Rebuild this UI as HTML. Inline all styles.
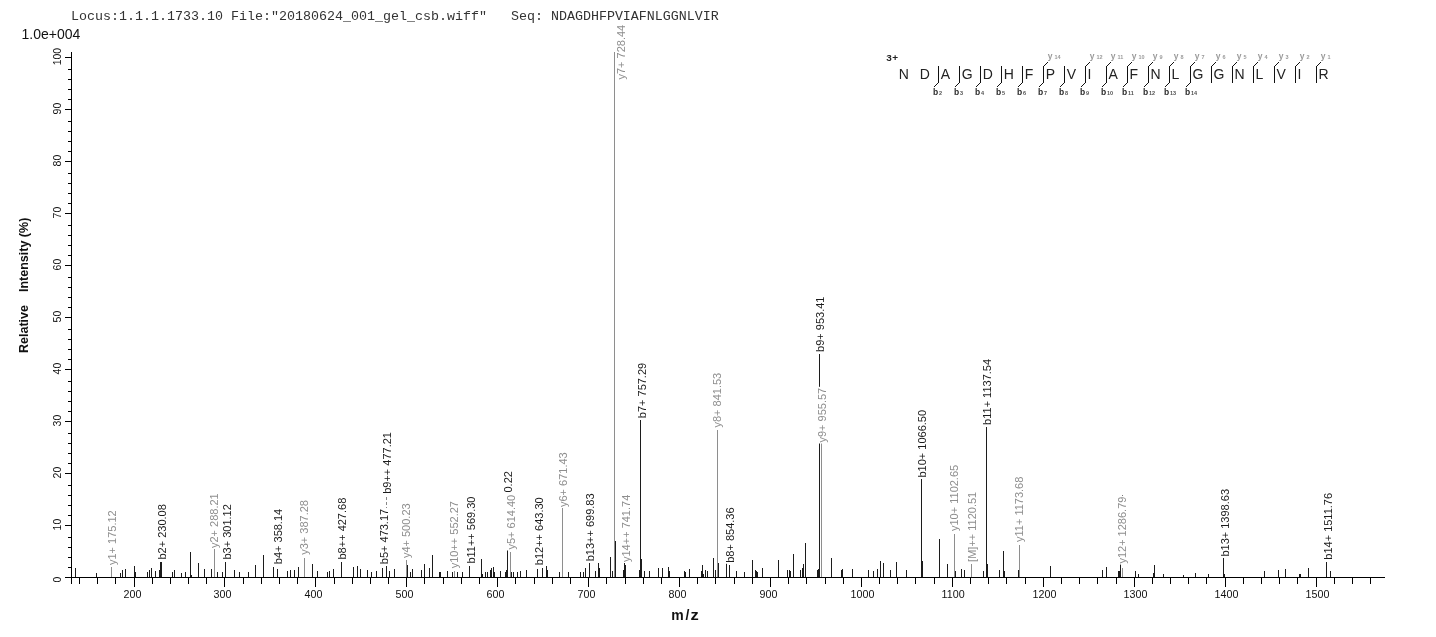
<!DOCTYPE html><html><head><meta charset="utf-8"><style>html,body{margin:0;padding:0;background:#fff;}body{width:1436px;height:637px;overflow:hidden;}svg{display:block;will-change:transform;}</style></head><body><svg width="1436" height="637" viewBox="0 0 1436 637">
<rect x="0" y="0" width="1436" height="637" fill="#fff"/>
<text x="71" y="20" font-family="Liberation Mono" font-size="13.33" fill="#333" xml:space="preserve">Locus:1.1.1.1733.10 File:&quot;20180624_001_gel_csb.wiff&quot;   Seq: NDAGDHFPVIAFNLGGNLVIR</text>
<text x="21.5" y="39" font-family="Liberation Sans" font-size="14" fill="#111">1.0e+004</text>
<text transform="translate(28,353) rotate(-90)" font-family="Liberation Sans" font-weight="bold" font-size="12.5" fill="#111">Relative</text>
<text transform="translate(28,292) rotate(-90)" font-family="Liberation Sans" font-weight="bold" font-size="12.5" fill="#111">Intensity (%)</text>
<text y="620" font-family="Liberation Sans" font-weight="bold" font-size="14" fill="#111"><tspan x="671.2">m</tspan><tspan x="685.5">/</tspan></text>
<text transform="translate(690.4,620) scale(1.18,1)" font-family="Liberation Sans" font-weight="bold" font-size="14" fill="#111">z</text>
<text transform="translate(61,579.5) rotate(-90)" text-anchor="middle" font-family="Liberation Sans" font-size="10.5" fill="#111">0</text>
<text transform="translate(61,524.6) rotate(-90)" text-anchor="middle" font-family="Liberation Sans" font-size="10.5" fill="#111">10</text>
<text transform="translate(61,472.6) rotate(-90)" text-anchor="middle" font-family="Liberation Sans" font-size="10.5" fill="#111">20</text>
<text transform="translate(61,420.6) rotate(-90)" text-anchor="middle" font-family="Liberation Sans" font-size="10.5" fill="#111">30</text>
<text transform="translate(61,368.6) rotate(-90)" text-anchor="middle" font-family="Liberation Sans" font-size="10.5" fill="#111">40</text>
<text transform="translate(61,316.6) rotate(-90)" text-anchor="middle" font-family="Liberation Sans" font-size="10.5" fill="#111">50</text>
<text transform="translate(61,264.6) rotate(-90)" text-anchor="middle" font-family="Liberation Sans" font-size="10.5" fill="#111">60</text>
<text transform="translate(61,212.6) rotate(-90)" text-anchor="middle" font-family="Liberation Sans" font-size="10.5" fill="#111">70</text>
<text transform="translate(61,160.6) rotate(-90)" text-anchor="middle" font-family="Liberation Sans" font-size="10.5" fill="#111">80</text>
<text transform="translate(61,108.6) rotate(-90)" text-anchor="middle" font-family="Liberation Sans" font-size="10.5" fill="#111">90</text>
<text transform="translate(61,56.6) rotate(-90)" text-anchor="middle" font-family="Liberation Sans" font-size="10.5" fill="#111">100</text>
<text x="123.6" y="597.5" font-family="Liberation Sans" font-size="10.7" fill="#111">200</text>
<text x="213.6" y="597.5" font-family="Liberation Sans" font-size="10.7" fill="#111">300</text>
<text x="304.6" y="597.5" font-family="Liberation Sans" font-size="10.7" fill="#111">400</text>
<text x="395.6" y="597.5" font-family="Liberation Sans" font-size="10.7" fill="#111">500</text>
<text x="486.6" y="597.5" font-family="Liberation Sans" font-size="10.7" fill="#111">600</text>
<text x="577.6" y="597.5" font-family="Liberation Sans" font-size="10.7" fill="#111">700</text>
<text x="668.6" y="597.5" font-family="Liberation Sans" font-size="10.7" fill="#111">800</text>
<text x="759.6" y="597.5" font-family="Liberation Sans" font-size="10.7" fill="#111">900</text>
<text x="850.6" y="597.5" font-family="Liberation Sans" font-size="10.7" fill="#111">1000</text>
<text x="941.6" y="597.5" font-family="Liberation Sans" font-size="10.7" fill="#111">1100</text>
<text x="1032.6" y="597.5" font-family="Liberation Sans" font-size="10.7" fill="#111">1200</text>
<text x="1123.6" y="597.5" font-family="Liberation Sans" font-size="10.7" fill="#111">1300</text>
<text x="1214.6" y="597.5" font-family="Liberation Sans" font-size="10.7" fill="#111">1400</text>
<text x="1305.6" y="597.5" font-family="Liberation Sans" font-size="10.7" fill="#111">1500</text>
<g shape-rendering="crispEdges"><rect x="71" y="52" width="1" height="532" fill="#000"/><rect x="65" y="577" width="1320" height="1" fill="#000"/><rect x="65" y="577" width="6" height="1" fill="#000"/><rect x="68" y="567" width="3" height="1" fill="#000"/><rect x="68" y="557" width="3" height="1" fill="#000"/><rect x="68" y="547" width="3" height="1" fill="#000"/><rect x="68" y="537" width="3" height="1" fill="#000"/><rect x="65" y="525" width="6" height="1" fill="#000"/><rect x="68" y="515" width="3" height="1" fill="#000"/><rect x="68" y="505" width="3" height="1" fill="#000"/><rect x="68" y="495" width="3" height="1" fill="#000"/><rect x="68" y="485" width="3" height="1" fill="#000"/><rect x="65" y="473" width="6" height="1" fill="#000"/><rect x="68" y="463" width="3" height="1" fill="#000"/><rect x="68" y="453" width="3" height="1" fill="#000"/><rect x="68" y="443" width="3" height="1" fill="#000"/><rect x="68" y="433" width="3" height="1" fill="#000"/><rect x="65" y="421" width="6" height="1" fill="#000"/><rect x="68" y="411" width="3" height="1" fill="#000"/><rect x="68" y="401" width="3" height="1" fill="#000"/><rect x="68" y="391" width="3" height="1" fill="#000"/><rect x="68" y="381" width="3" height="1" fill="#000"/><rect x="65" y="369" width="6" height="1" fill="#000"/><rect x="68" y="359" width="3" height="1" fill="#000"/><rect x="68" y="349" width="3" height="1" fill="#000"/><rect x="68" y="339" width="3" height="1" fill="#000"/><rect x="68" y="329" width="3" height="1" fill="#000"/><rect x="65" y="317" width="6" height="1" fill="#000"/><rect x="68" y="307" width="3" height="1" fill="#000"/><rect x="68" y="297" width="3" height="1" fill="#000"/><rect x="68" y="287" width="3" height="1" fill="#000"/><rect x="68" y="277" width="3" height="1" fill="#000"/><rect x="65" y="265" width="6" height="1" fill="#000"/><rect x="68" y="255" width="3" height="1" fill="#000"/><rect x="68" y="245" width="3" height="1" fill="#000"/><rect x="68" y="235" width="3" height="1" fill="#000"/><rect x="68" y="225" width="3" height="1" fill="#000"/><rect x="65" y="213" width="6" height="1" fill="#000"/><rect x="68" y="203" width="3" height="1" fill="#000"/><rect x="68" y="193" width="3" height="1" fill="#000"/><rect x="68" y="183" width="3" height="1" fill="#000"/><rect x="68" y="173" width="3" height="1" fill="#000"/><rect x="65" y="161" width="6" height="1" fill="#000"/><rect x="68" y="151" width="3" height="1" fill="#000"/><rect x="68" y="141" width="3" height="1" fill="#000"/><rect x="68" y="131" width="3" height="1" fill="#000"/><rect x="68" y="121" width="3" height="1" fill="#000"/><rect x="65" y="109" width="6" height="1" fill="#000"/><rect x="68" y="99" width="3" height="1" fill="#000"/><rect x="68" y="89" width="3" height="1" fill="#000"/><rect x="68" y="79" width="3" height="1" fill="#000"/><rect x="68" y="69" width="3" height="1" fill="#000"/><rect x="65" y="57" width="6" height="1" fill="#000"/><rect x="79" y="578" width="1" height="6" fill="#000"/><rect x="97" y="578" width="1" height="6" fill="#000"/><rect x="115" y="578" width="1" height="6" fill="#000"/><rect x="134" y="578" width="1" height="9" fill="#000"/><rect x="152" y="578" width="1" height="6" fill="#000"/><rect x="170" y="578" width="1" height="6" fill="#000"/><rect x="188" y="578" width="1" height="6" fill="#000"/><rect x="206" y="578" width="1" height="6" fill="#000"/><rect x="224" y="578" width="1" height="9" fill="#000"/><rect x="243" y="578" width="1" height="6" fill="#000"/><rect x="261" y="578" width="1" height="6" fill="#000"/><rect x="279" y="578" width="1" height="6" fill="#000"/><rect x="297" y="578" width="1" height="6" fill="#000"/><rect x="315" y="578" width="1" height="9" fill="#000"/><rect x="334" y="578" width="1" height="6" fill="#000"/><rect x="352" y="578" width="1" height="6" fill="#000"/><rect x="370" y="578" width="1" height="6" fill="#000"/><rect x="388" y="578" width="1" height="6" fill="#000"/><rect x="406" y="578" width="1" height="9" fill="#000"/><rect x="424" y="578" width="1" height="6" fill="#000"/><rect x="443" y="578" width="1" height="6" fill="#000"/><rect x="461" y="578" width="1" height="6" fill="#000"/><rect x="479" y="578" width="1" height="6" fill="#000"/><rect x="497" y="578" width="1" height="9" fill="#000"/><rect x="515" y="578" width="1" height="6" fill="#000"/><rect x="534" y="578" width="1" height="6" fill="#000"/><rect x="552" y="578" width="1" height="6" fill="#000"/><rect x="570" y="578" width="1" height="6" fill="#000"/><rect x="588" y="578" width="1" height="9" fill="#000"/><rect x="606" y="578" width="1" height="6" fill="#000"/><rect x="625" y="578" width="1" height="6" fill="#000"/><rect x="643" y="578" width="1" height="6" fill="#000"/><rect x="661" y="578" width="1" height="6" fill="#000"/><rect x="679" y="578" width="1" height="9" fill="#000"/><rect x="697" y="578" width="1" height="6" fill="#000"/><rect x="715" y="578" width="1" height="6" fill="#000"/><rect x="734" y="578" width="1" height="6" fill="#000"/><rect x="752" y="578" width="1" height="6" fill="#000"/><rect x="770" y="578" width="1" height="9" fill="#000"/><rect x="788" y="578" width="1" height="6" fill="#000"/><rect x="806" y="578" width="1" height="6" fill="#000"/><rect x="825" y="578" width="1" height="6" fill="#000"/><rect x="843" y="578" width="1" height="6" fill="#000"/><rect x="861" y="578" width="1" height="9" fill="#000"/><rect x="879" y="578" width="1" height="6" fill="#000"/><rect x="897" y="578" width="1" height="6" fill="#000"/><rect x="915" y="578" width="1" height="6" fill="#000"/><rect x="934" y="578" width="1" height="6" fill="#000"/><rect x="952" y="578" width="1" height="9" fill="#000"/><rect x="970" y="578" width="1" height="6" fill="#000"/><rect x="988" y="578" width="1" height="6" fill="#000"/><rect x="1006" y="578" width="1" height="6" fill="#000"/><rect x="1025" y="578" width="1" height="6" fill="#000"/><rect x="1043" y="578" width="1" height="9" fill="#000"/><rect x="1061" y="578" width="1" height="6" fill="#000"/><rect x="1079" y="578" width="1" height="6" fill="#000"/><rect x="1097" y="578" width="1" height="6" fill="#000"/><rect x="1116" y="578" width="1" height="6" fill="#000"/><rect x="1134" y="578" width="1" height="9" fill="#000"/><rect x="1152" y="578" width="1" height="6" fill="#000"/><rect x="1170" y="578" width="1" height="6" fill="#000"/><rect x="1188" y="578" width="1" height="6" fill="#000"/><rect x="1206" y="578" width="1" height="6" fill="#000"/><rect x="1225" y="578" width="1" height="9" fill="#000"/><rect x="1243" y="578" width="1" height="6" fill="#000"/><rect x="1261" y="578" width="1" height="6" fill="#000"/><rect x="1279" y="578" width="1" height="6" fill="#000"/><rect x="1297" y="578" width="1" height="6" fill="#000"/><rect x="1316" y="578" width="1" height="9" fill="#000"/><rect x="1334" y="578" width="1" height="6" fill="#000"/><rect x="1352" y="578" width="1" height="6" fill="#000"/><rect x="1370" y="578" width="1" height="6" fill="#000"/><rect x="111" y="567" width="1" height="10" fill="#8e8e8e"/><rect x="214" y="549" width="1" height="28" fill="#8e8e8e"/><rect x="304" y="558" width="1" height="19" fill="#8e8e8e"/><rect x="406" y="560" width="1" height="17" fill="#8e8e8e"/><rect x="454" y="571" width="1" height="6" fill="#8e8e8e"/><rect x="510" y="552" width="1" height="25" fill="#8e8e8e"/><rect x="562" y="508" width="1" height="69" fill="#8e8e8e"/><rect x="614" y="52" width="1" height="525" fill="#8e8e8e"/><rect x="717" y="430" width="1" height="147" fill="#8e8e8e"/><rect x="821" y="443" width="1" height="134" fill="#8e8e8e"/><rect x="954" y="534" width="1" height="43" fill="#8e8e8e"/><rect x="971" y="564" width="1" height="13" fill="#8e8e8e"/><rect x="1019" y="545" width="1" height="32" fill="#8e8e8e"/><rect x="1122" y="568" width="1" height="9" fill="#8e8e8e"/><rect x="75" y="568" width="1" height="9" fill="#1c1c1c"/><rect x="96" y="573" width="1" height="4" fill="#1c1c1c"/><rect x="120" y="573" width="1" height="4" fill="#1c1c1c"/><rect x="122" y="570" width="1" height="7" fill="#1c1c1c"/><rect x="125" y="569" width="1" height="8" fill="#1c1c1c"/><rect x="134" y="566" width="1" height="11" fill="#1c1c1c"/><rect x="135" y="572" width="1" height="5" fill="#1c1c1c"/><rect x="147" y="572" width="1" height="5" fill="#1c1c1c"/><rect x="149" y="570" width="1" height="7" fill="#1c1c1c"/><rect x="151" y="568" width="1" height="9" fill="#1c1c1c"/><rect x="155" y="571" width="1" height="6" fill="#1c1c1c"/><rect x="159" y="570" width="1" height="7" fill="#1c1c1c"/><rect x="160" y="562" width="1" height="15" fill="#1c1c1c"/><rect x="161" y="562" width="1" height="15" fill="#1c1c1c"/><rect x="172" y="572" width="1" height="5" fill="#1c1c1c"/><rect x="174" y="570" width="1" height="7" fill="#1c1c1c"/><rect x="181" y="573" width="1" height="4" fill="#1c1c1c"/><rect x="185" y="572" width="1" height="5" fill="#1c1c1c"/><rect x="190" y="552" width="1" height="25" fill="#1c1c1c"/><rect x="191" y="575" width="1" height="2" fill="#1c1c1c"/><rect x="198" y="563" width="1" height="14" fill="#1c1c1c"/><rect x="204" y="569" width="1" height="8" fill="#1c1c1c"/><rect x="211" y="569" width="1" height="8" fill="#1c1c1c"/><rect x="217" y="572" width="1" height="5" fill="#1c1c1c"/><rect x="222" y="572" width="1" height="5" fill="#1c1c1c"/><rect x="225" y="562" width="1" height="15" fill="#1c1c1c"/><rect x="234" y="570" width="1" height="7" fill="#1c1c1c"/><rect x="239" y="572" width="1" height="5" fill="#1c1c1c"/><rect x="248" y="572" width="1" height="5" fill="#1c1c1c"/><rect x="255" y="565" width="1" height="12" fill="#1c1c1c"/><rect x="263" y="555" width="1" height="22" fill="#1c1c1c"/><rect x="273" y="567" width="1" height="10" fill="#1c1c1c"/><rect x="277" y="569" width="1" height="8" fill="#1c1c1c"/><rect x="287" y="571" width="1" height="6" fill="#1c1c1c"/><rect x="290" y="570" width="1" height="7" fill="#1c1c1c"/><rect x="294" y="570" width="1" height="7" fill="#1c1c1c"/><rect x="298" y="567" width="1" height="10" fill="#1c1c1c"/><rect x="312" y="564" width="1" height="13" fill="#1c1c1c"/><rect x="317" y="571" width="1" height="6" fill="#1c1c1c"/><rect x="327" y="572" width="1" height="5" fill="#1c1c1c"/><rect x="329" y="571" width="1" height="6" fill="#1c1c1c"/><rect x="333" y="569" width="1" height="8" fill="#1c1c1c"/><rect x="341" y="562" width="1" height="15" fill="#1c1c1c"/><rect x="353" y="567" width="1" height="10" fill="#1c1c1c"/><rect x="357" y="566" width="1" height="11" fill="#1c1c1c"/><rect x="360" y="569" width="1" height="8" fill="#1c1c1c"/><rect x="367" y="570" width="1" height="7" fill="#1c1c1c"/><rect x="371" y="572" width="1" height="5" fill="#1c1c1c"/><rect x="376" y="571" width="1" height="6" fill="#1c1c1c"/><rect x="382" y="568" width="1" height="9" fill="#1c1c1c"/><rect x="386" y="566" width="1" height="11" fill="#1c1c1c"/><rect x="389" y="571" width="1" height="6" fill="#1c1c1c"/><rect x="394" y="569" width="1" height="8" fill="#1c1c1c"/><rect x="407" y="565" width="1" height="12" fill="#1c1c1c"/><rect x="410" y="572" width="1" height="5" fill="#1c1c1c"/><rect x="412" y="569" width="1" height="8" fill="#1c1c1c"/><rect x="421" y="570" width="1" height="7" fill="#1c1c1c"/><rect x="424" y="564" width="1" height="13" fill="#1c1c1c"/><rect x="429" y="568" width="1" height="9" fill="#1c1c1c"/><rect x="432" y="555" width="1" height="22" fill="#1c1c1c"/><rect x="439" y="572" width="1" height="5" fill="#1c1c1c"/><rect x="440" y="572" width="1" height="5" fill="#1c1c1c"/><rect x="447" y="571" width="1" height="6" fill="#1c1c1c"/><rect x="452" y="572" width="1" height="5" fill="#1c1c1c"/><rect x="457" y="572" width="1" height="5" fill="#1c1c1c"/><rect x="462" y="572" width="1" height="5" fill="#1c1c1c"/><rect x="469" y="566" width="1" height="11" fill="#1c1c1c"/><rect x="481" y="559" width="1" height="18" fill="#1c1c1c"/><rect x="482" y="574" width="1" height="3" fill="#1c1c1c"/><rect x="485" y="572" width="1" height="5" fill="#1c1c1c"/><rect x="487" y="572" width="1" height="5" fill="#1c1c1c"/><rect x="490" y="570" width="1" height="7" fill="#1c1c1c"/><rect x="491" y="568" width="1" height="9" fill="#1c1c1c"/><rect x="493" y="567" width="1" height="10" fill="#1c1c1c"/><rect x="494" y="572" width="1" height="5" fill="#1c1c1c"/><rect x="500" y="571" width="1" height="6" fill="#1c1c1c"/><rect x="505" y="572" width="1" height="5" fill="#1c1c1c"/><rect x="506" y="570" width="1" height="7" fill="#1c1c1c"/><rect x="507" y="550" width="1" height="27" fill="#1c1c1c"/><rect x="511" y="572" width="1" height="5" fill="#1c1c1c"/><rect x="513" y="572" width="1" height="5" fill="#1c1c1c"/><rect x="517" y="572" width="1" height="5" fill="#1c1c1c"/><rect x="520" y="571" width="1" height="6" fill="#1c1c1c"/><rect x="526" y="570" width="1" height="7" fill="#1c1c1c"/><rect x="537" y="569" width="1" height="8" fill="#1c1c1c"/><rect x="542" y="568" width="1" height="9" fill="#1c1c1c"/><rect x="546" y="566" width="1" height="11" fill="#1c1c1c"/><rect x="547" y="570" width="1" height="7" fill="#1c1c1c"/><rect x="559" y="572" width="1" height="5" fill="#1c1c1c"/><rect x="568" y="572" width="1" height="5" fill="#1c1c1c"/><rect x="580" y="572" width="1" height="5" fill="#1c1c1c"/><rect x="583" y="572" width="1" height="5" fill="#1c1c1c"/><rect x="585" y="568" width="1" height="9" fill="#1c1c1c"/><rect x="589" y="563" width="1" height="14" fill="#1c1c1c"/><rect x="595" y="571" width="1" height="6" fill="#1c1c1c"/><rect x="598" y="563" width="1" height="14" fill="#1c1c1c"/><rect x="599" y="568" width="1" height="9" fill="#1c1c1c"/><rect x="610" y="557" width="1" height="20" fill="#1c1c1c"/><rect x="612" y="571" width="1" height="6" fill="#1c1c1c"/><rect x="615" y="541" width="1" height="36" fill="#1c1c1c"/><rect x="623" y="570" width="1" height="7" fill="#1c1c1c"/><rect x="624" y="563" width="1" height="14" fill="#1c1c1c"/><rect x="625" y="565" width="1" height="12" fill="#1c1c1c"/><rect x="639" y="570" width="1" height="7" fill="#1c1c1c"/><rect x="640" y="420" width="1" height="157" fill="#1c1c1c"/><rect x="641" y="559" width="1" height="18" fill="#1c1c1c"/><rect x="644" y="571" width="1" height="6" fill="#1c1c1c"/><rect x="649" y="571" width="1" height="6" fill="#1c1c1c"/><rect x="658" y="568" width="1" height="9" fill="#1c1c1c"/><rect x="662" y="568" width="1" height="9" fill="#1c1c1c"/><rect x="668" y="567" width="1" height="10" fill="#1c1c1c"/><rect x="669" y="571" width="1" height="6" fill="#1c1c1c"/><rect x="684" y="571" width="1" height="6" fill="#1c1c1c"/><rect x="685" y="572" width="1" height="5" fill="#1c1c1c"/><rect x="689" y="569" width="1" height="8" fill="#1c1c1c"/><rect x="701" y="571" width="1" height="6" fill="#1c1c1c"/><rect x="702" y="565" width="1" height="12" fill="#1c1c1c"/><rect x="703" y="574" width="1" height="3" fill="#1c1c1c"/><rect x="705" y="570" width="1" height="7" fill="#1c1c1c"/><rect x="707" y="571" width="1" height="6" fill="#1c1c1c"/><rect x="713" y="558" width="1" height="19" fill="#1c1c1c"/><rect x="715" y="570" width="1" height="7" fill="#1c1c1c"/><rect x="718" y="563" width="1" height="14" fill="#1c1c1c"/><rect x="726" y="563" width="1" height="14" fill="#1c1c1c"/><rect x="729" y="565" width="1" height="12" fill="#1c1c1c"/><rect x="736" y="571" width="1" height="6" fill="#1c1c1c"/><rect x="744" y="572" width="1" height="5" fill="#1c1c1c"/><rect x="752" y="560" width="1" height="17" fill="#1c1c1c"/><rect x="755" y="570" width="1" height="7" fill="#1c1c1c"/><rect x="756" y="571" width="1" height="6" fill="#1c1c1c"/><rect x="757" y="572" width="1" height="5" fill="#1c1c1c"/><rect x="762" y="568" width="1" height="9" fill="#1c1c1c"/><rect x="778" y="560" width="1" height="17" fill="#1c1c1c"/><rect x="787" y="570" width="1" height="7" fill="#1c1c1c"/><rect x="789" y="570" width="1" height="7" fill="#1c1c1c"/><rect x="790" y="571" width="1" height="6" fill="#1c1c1c"/><rect x="793" y="554" width="1" height="23" fill="#1c1c1c"/><rect x="800" y="570" width="1" height="7" fill="#1c1c1c"/><rect x="802" y="568" width="1" height="9" fill="#1c1c1c"/><rect x="803" y="564" width="1" height="13" fill="#1c1c1c"/><rect x="805" y="543" width="1" height="34" fill="#1c1c1c"/><rect x="817" y="570" width="1" height="7" fill="#1c1c1c"/><rect x="818" y="569" width="1" height="8" fill="#1c1c1c"/><rect x="819" y="354" width="1" height="223" fill="#1c1c1c"/><rect x="831" y="558" width="1" height="19" fill="#1c1c1c"/><rect x="841" y="570" width="1" height="7" fill="#1c1c1c"/><rect x="842" y="569" width="1" height="8" fill="#1c1c1c"/><rect x="852" y="569" width="1" height="8" fill="#1c1c1c"/><rect x="868" y="570" width="1" height="7" fill="#1c1c1c"/><rect x="873" y="571" width="1" height="6" fill="#1c1c1c"/><rect x="877" y="569" width="1" height="8" fill="#1c1c1c"/><rect x="880" y="561" width="1" height="16" fill="#1c1c1c"/><rect x="883" y="563" width="1" height="14" fill="#1c1c1c"/><rect x="890" y="570" width="1" height="7" fill="#1c1c1c"/><rect x="896" y="562" width="1" height="15" fill="#1c1c1c"/><rect x="906" y="570" width="1" height="7" fill="#1c1c1c"/><rect x="921" y="479" width="1" height="98" fill="#1c1c1c"/><rect x="922" y="561" width="1" height="16" fill="#1c1c1c"/><rect x="939" y="539" width="1" height="38" fill="#1c1c1c"/><rect x="947" y="564" width="1" height="13" fill="#1c1c1c"/><rect x="955" y="571" width="1" height="6" fill="#1c1c1c"/><rect x="961" y="569" width="1" height="8" fill="#1c1c1c"/><rect x="964" y="570" width="1" height="7" fill="#1c1c1c"/><rect x="983" y="571" width="1" height="6" fill="#1c1c1c"/><rect x="986" y="427" width="1" height="150" fill="#1c1c1c"/><rect x="987" y="564" width="1" height="13" fill="#1c1c1c"/><rect x="999" y="570" width="1" height="7" fill="#1c1c1c"/><rect x="1003" y="551" width="1" height="26" fill="#1c1c1c"/><rect x="1004" y="571" width="1" height="6" fill="#1c1c1c"/><rect x="1018" y="570" width="1" height="7" fill="#1c1c1c"/><rect x="1050" y="566" width="1" height="11" fill="#1c1c1c"/><rect x="1102" y="570" width="1" height="7" fill="#1c1c1c"/><rect x="1106" y="567" width="1" height="10" fill="#1c1c1c"/><rect x="1118" y="571" width="1" height="6" fill="#1c1c1c"/><rect x="1119" y="571" width="1" height="6" fill="#1c1c1c"/><rect x="1120" y="564" width="1" height="13" fill="#1c1c1c"/><rect x="1135" y="571" width="1" height="6" fill="#1c1c1c"/><rect x="1138" y="574" width="1" height="3" fill="#1c1c1c"/><rect x="1153" y="573" width="1" height="4" fill="#1c1c1c"/><rect x="1154" y="565" width="1" height="12" fill="#1c1c1c"/><rect x="1163" y="574" width="1" height="3" fill="#1c1c1c"/><rect x="1183" y="575" width="1" height="2" fill="#1c1c1c"/><rect x="1195" y="573" width="1" height="4" fill="#1c1c1c"/><rect x="1208" y="574" width="1" height="3" fill="#1c1c1c"/><rect x="1223" y="558" width="1" height="19" fill="#1c1c1c"/><rect x="1224" y="574" width="1" height="3" fill="#1c1c1c"/><rect x="1264" y="571" width="1" height="6" fill="#1c1c1c"/><rect x="1278" y="570" width="1" height="7" fill="#1c1c1c"/><rect x="1285" y="569" width="1" height="8" fill="#1c1c1c"/><rect x="1299" y="574" width="1" height="3" fill="#1c1c1c"/><rect x="1300" y="574" width="1" height="3" fill="#1c1c1c"/><rect x="1308" y="568" width="1" height="9" fill="#1c1c1c"/><rect x="1326" y="562" width="1" height="15" fill="#1c1c1c"/><rect x="1330" y="571" width="1" height="6" fill="#1c1c1c"/></g>
<rect x="106.6" y="509.3" width="12" height="56.7" fill="#fff"/>
<text transform="translate(115.6,565.0) rotate(-90)" font-family="Liberation Sans" font-size="11" fill="#8e8e8e">y1+ 175.12</text>
<rect x="157.4" y="503.1" width="12" height="57.4" fill="#fff"/>
<text transform="translate(166.4,559.5) rotate(-90)" font-family="Liberation Sans" font-size="11" fill="#1c1c1c">b2+ 230.08</text>
<rect x="209.3" y="492.3" width="12" height="56.7" fill="#fff"/>
<text transform="translate(218.3,548.0) rotate(-90)" font-family="Liberation Sans" font-size="11" fill="#8e8e8e">y2+ 288.21</text>
<rect x="221.8" y="503.1" width="12" height="57.4" fill="#fff"/>
<text transform="translate(230.8,559.5) rotate(-90)" font-family="Liberation Sans" font-size="11" fill="#1c1c1c">b3+ 301.12</text>
<rect x="273.2" y="507.8" width="12" height="57.4" fill="#fff"/>
<text transform="translate(282.2,564.2) rotate(-90)" font-family="Liberation Sans" font-size="11" fill="#1c1c1c">b4+ 358.14</text>
<rect x="298.6" y="499.1" width="12" height="56.7" fill="#fff"/>
<text transform="translate(307.6,554.8) rotate(-90)" font-family="Liberation Sans" font-size="11" fill="#8e8e8e">y3+ 387.28</text>
<rect x="337.2" y="496.7" width="12" height="63.8" fill="#fff"/>
<text transform="translate(346.2,559.5) rotate(-90)" font-family="Liberation Sans" font-size="11" fill="#1c1c1c">b8++ 427.68</text>
<rect x="378.6" y="507.8" width="12" height="57.4" fill="#fff"/>
<text transform="translate(387.6,564.2) rotate(-90)" font-family="Liberation Sans" font-size="11" fill="#1c1c1c">b5+ 473.17</text>
<rect x="382.3" y="431.0" width="12" height="63.8" fill="#fff"/>
<text transform="translate(391.3,493.8) rotate(-90)" font-family="Liberation Sans" font-size="11" fill="#1c1c1c">b9++ 477.21</text>
<rect x="401.1" y="502.4" width="12" height="56.7" fill="#fff"/>
<text transform="translate(410.1,558.1) rotate(-90)" font-family="Liberation Sans" font-size="11" fill="#8e8e8e">y4+ 500.23</text>
<rect x="448.9" y="500.0" width="12" height="69.3" fill="#fff"/>
<text transform="translate(457.9,568.3) rotate(-90)" font-family="Liberation Sans" font-size="11" fill="#8e8e8e">y10++ 552.27</text>
<rect x="465.7" y="494.7" width="12" height="69.9" fill="#fff"/>
<text transform="translate(474.7,563.6) rotate(-90)" font-family="Liberation Sans" font-size="11" fill="#1c1c1c">b11++ 569.30</text>
<rect x="505.5" y="493.8" width="12" height="56.7" fill="#fff"/>
<text transform="translate(514.5,549.5) rotate(-90)" font-family="Liberation Sans" font-size="11" fill="#8e8e8e">y5+ 614.40</text>
<rect x="534.0" y="496.3" width="12" height="69.9" fill="#fff"/>
<text transform="translate(543.0,565.2) rotate(-90)" font-family="Liberation Sans" font-size="11" fill="#1c1c1c">b12++ 643.30</text>
<rect x="558.0" y="451.3" width="12" height="56.7" fill="#fff"/>
<text transform="translate(567.0,507.0) rotate(-90)" font-family="Liberation Sans" font-size="11" fill="#8e8e8e">y6+ 671.43</text>
<rect x="584.9" y="492.4" width="12" height="69.9" fill="#fff"/>
<text transform="translate(593.9,561.3) rotate(-90)" font-family="Liberation Sans" font-size="11" fill="#1c1c1c">b13++ 699.83</text>
<rect x="621.2" y="493.7" width="12" height="69.3" fill="#fff"/>
<text transform="translate(630.2,562.0) rotate(-90)" font-family="Liberation Sans" font-size="11" fill="#8e8e8e">y14++ 741.74</text>
<rect x="636.7" y="361.8" width="12" height="57.4" fill="#fff"/>
<text transform="translate(645.7,418.2) rotate(-90)" font-family="Liberation Sans" font-size="11" fill="#1c1c1c">b7+ 757.29</text>
<rect x="712.2" y="371.8" width="12" height="56.7" fill="#fff"/>
<text transform="translate(721.2,427.5) rotate(-90)" font-family="Liberation Sans" font-size="11" fill="#8e8e8e">y8+ 841.53</text>
<rect x="725.4" y="506.4" width="12" height="57.4" fill="#fff"/>
<text transform="translate(734.4,562.8) rotate(-90)" font-family="Liberation Sans" font-size="11" fill="#1c1c1c">b8+ 854.36</text>
<rect x="815.0" y="295.5" width="12" height="57.4" fill="#fff"/>
<text transform="translate(824.0,351.9) rotate(-90)" font-family="Liberation Sans" font-size="11" fill="#1c1c1c">b9+ 953.41</text>
<rect x="816.6" y="386.8" width="12" height="56.7" fill="#fff"/>
<text transform="translate(825.6,442.5) rotate(-90)" font-family="Liberation Sans" font-size="11" fill="#8e8e8e">y9+ 955.57</text>
<rect x="917.0" y="408.9" width="12" height="69.6" fill="#fff"/>
<text transform="translate(926.0,477.5) rotate(-90)" font-family="Liberation Sans" font-size="11" fill="#1c1c1c">b10+ 1066.50</text>
<rect x="948.6" y="463.0" width="12" height="69.0" fill="#fff"/>
<text transform="translate(957.6,531.0) rotate(-90)" font-family="Liberation Sans" font-size="11" fill="#8e8e8e">y10+ 1102.65</text>
<rect x="966.6" y="490.0" width="12" height="72.9" fill="#fff"/>
<text transform="translate(975.6,561.9) rotate(-90)" font-family="Liberation Sans" font-size="11" fill="#8e8e8e">[M]++ 1120.51</text>
<rect x="982.4" y="356.3" width="12" height="69.6" fill="#fff"/>
<text transform="translate(991.4,424.9) rotate(-90)" font-family="Liberation Sans" font-size="11" fill="#1c1c1c">b11+ 1137.54</text>
<rect x="1014.1" y="474.0" width="12" height="69.0" fill="#fff"/>
<text transform="translate(1023.1,542.0) rotate(-90)" font-family="Liberation Sans" font-size="11" fill="#8e8e8e">y11+ 1173.68</text>
<rect x="1117.2" y="495.6" width="12" height="69.0" fill="#fff"/>
<text transform="translate(1126.2,563.6) rotate(-90)" font-family="Liberation Sans" font-size="11" fill="#8e8e8e">y12+ 1286.79</text>
<rect x="1219.8" y="488.0" width="12" height="69.6" fill="#fff"/>
<text transform="translate(1228.8,556.6) rotate(-90)" font-family="Liberation Sans" font-size="11" fill="#1c1c1c">b13+ 1398.63</text>
<rect x="1322.5" y="491.1" width="12" height="69.6" fill="#fff"/>
<text transform="translate(1331.5,559.7) rotate(-90)" font-family="Liberation Sans" font-size="11" fill="#1c1c1c">b14+ 1511.76</text>
<text transform="translate(624.8,79.5) rotate(-90)" font-family="Liberation Sans" font-size="11" fill="#8e8e8e">y7+ 728.44</text>
<text transform="translate(511.6,492.5) rotate(-90)" font-family="Liberation Sans" font-size="11" fill="#1c1c1c">0.22</text>
<rect x="1122" y="495" width="1" height="1" fill="#777"/>
<line x1="386.5" y1="497" x2="386.5" y2="508" stroke="#888" stroke-width="1" stroke-dasharray="3,2"/>
<text transform="translate(886.2,60.8) scale(1,0.9)" font-family="Liberation Sans" font-weight="bold" font-size="10" letter-spacing="0.6" fill="#222">3+</text>
<text x="898.80" y="79" font-family="Liberation Sans" font-size="14" fill="#222">N</text>
<text x="919.78" y="79" font-family="Liberation Sans" font-size="14" fill="#222">D</text>
<text x="940.76" y="79" font-family="Liberation Sans" font-size="14" fill="#222">A</text>
<text x="961.74" y="79" font-family="Liberation Sans" font-size="14" fill="#222">G</text>
<text x="982.72" y="79" font-family="Liberation Sans" font-size="14" fill="#222">D</text>
<text x="1003.70" y="79" font-family="Liberation Sans" font-size="14" fill="#222">H</text>
<text x="1024.68" y="79" font-family="Liberation Sans" font-size="14" fill="#222">F</text>
<text x="1045.66" y="79" font-family="Liberation Sans" font-size="14" fill="#222">P</text>
<text x="1066.64" y="79" font-family="Liberation Sans" font-size="14" fill="#222">V</text>
<text x="1087.62" y="79" font-family="Liberation Sans" font-size="14" fill="#222">I</text>
<text x="1108.60" y="79" font-family="Liberation Sans" font-size="14" fill="#222">A</text>
<text x="1129.58" y="79" font-family="Liberation Sans" font-size="14" fill="#222">F</text>
<text x="1150.56" y="79" font-family="Liberation Sans" font-size="14" fill="#222">N</text>
<text x="1171.54" y="79" font-family="Liberation Sans" font-size="14" fill="#222">L</text>
<text x="1192.52" y="79" font-family="Liberation Sans" font-size="14" fill="#222">G</text>
<text x="1213.50" y="79" font-family="Liberation Sans" font-size="14" fill="#222">G</text>
<text x="1234.48" y="79" font-family="Liberation Sans" font-size="14" fill="#222">N</text>
<text x="1255.46" y="79" font-family="Liberation Sans" font-size="14" fill="#222">L</text>
<text x="1276.44" y="79" font-family="Liberation Sans" font-size="14" fill="#222">V</text>
<text x="1297.42" y="79" font-family="Liberation Sans" font-size="14" fill="#222">I</text>
<text x="1318.40" y="79" font-family="Liberation Sans" font-size="14" fill="#222">R</text>
<text x="932.90" y="94.8" font-family="Liberation Sans" font-weight="bold" font-size="8.5" fill="#2a2a2a">b<tspan font-size="5.5" dx="0.9" fill="#505050">2</tspan></text>
<text x="953.90" y="94.8" font-family="Liberation Sans" font-weight="bold" font-size="8.5" fill="#2a2a2a">b<tspan font-size="5.5" dx="0.9" fill="#505050">3</tspan></text>
<text x="974.90" y="94.8" font-family="Liberation Sans" font-weight="bold" font-size="8.5" fill="#2a2a2a">b<tspan font-size="5.5" dx="0.9" fill="#505050">4</tspan></text>
<text x="995.90" y="94.8" font-family="Liberation Sans" font-weight="bold" font-size="8.5" fill="#2a2a2a">b<tspan font-size="5.5" dx="0.9" fill="#505050">5</tspan></text>
<text x="1016.90" y="94.8" font-family="Liberation Sans" font-weight="bold" font-size="8.5" fill="#2a2a2a">b<tspan font-size="5.5" dx="0.9" fill="#505050">6</tspan></text>
<text x="1037.90" y="94.8" font-family="Liberation Sans" font-weight="bold" font-size="8.5" fill="#2a2a2a">b<tspan font-size="5.5" dx="0.9" fill="#505050">7</tspan></text>
<text x="1047.80" y="59" font-family="Liberation Sans" font-weight="bold" font-size="8.5" fill="#9a9a9a">y<tspan font-size="5.5" dx="2">14</tspan></text>
<text x="1058.90" y="94.8" font-family="Liberation Sans" font-weight="bold" font-size="8.5" fill="#2a2a2a">b<tspan font-size="5.5" dx="0.9" fill="#505050">8</tspan></text>
<text x="1079.90" y="94.8" font-family="Liberation Sans" font-weight="bold" font-size="8.5" fill="#2a2a2a">b<tspan font-size="5.5" dx="0.9" fill="#505050">9</tspan></text>
<text x="1089.80" y="59" font-family="Liberation Sans" font-weight="bold" font-size="8.5" fill="#9a9a9a">y<tspan font-size="5.5" dx="2">12</tspan></text>
<text x="1100.90" y="94.8" font-family="Liberation Sans" font-weight="bold" font-size="8.5" fill="#2a2a2a">b<tspan font-size="5.5" dx="0.9" fill="#505050">10</tspan></text>
<text x="1110.80" y="59" font-family="Liberation Sans" font-weight="bold" font-size="8.5" fill="#9a9a9a">y<tspan font-size="5.5" dx="2">11</tspan></text>
<text x="1121.90" y="94.8" font-family="Liberation Sans" font-weight="bold" font-size="8.5" fill="#2a2a2a">b<tspan font-size="5.5" dx="0.9" fill="#505050">11</tspan></text>
<text x="1131.80" y="59" font-family="Liberation Sans" font-weight="bold" font-size="8.5" fill="#9a9a9a">y<tspan font-size="5.5" dx="2">10</tspan></text>
<text x="1142.90" y="94.8" font-family="Liberation Sans" font-weight="bold" font-size="8.5" fill="#2a2a2a">b<tspan font-size="5.5" dx="0.9" fill="#505050">12</tspan></text>
<text x="1152.80" y="59" font-family="Liberation Sans" font-weight="bold" font-size="8.5" fill="#9a9a9a">y<tspan font-size="5.5" dx="2">9</tspan></text>
<text x="1163.90" y="94.8" font-family="Liberation Sans" font-weight="bold" font-size="8.5" fill="#2a2a2a">b<tspan font-size="5.5" dx="0.9" fill="#505050">13</tspan></text>
<text x="1173.80" y="59" font-family="Liberation Sans" font-weight="bold" font-size="8.5" fill="#9a9a9a">y<tspan font-size="5.5" dx="2">8</tspan></text>
<text x="1184.90" y="94.8" font-family="Liberation Sans" font-weight="bold" font-size="8.5" fill="#2a2a2a">b<tspan font-size="5.5" dx="0.9" fill="#505050">14</tspan></text>
<text x="1194.80" y="59" font-family="Liberation Sans" font-weight="bold" font-size="8.5" fill="#9a9a9a">y<tspan font-size="5.5" dx="2">7</tspan></text>
<text x="1215.80" y="59" font-family="Liberation Sans" font-weight="bold" font-size="8.5" fill="#9a9a9a">y<tspan font-size="5.5" dx="2">6</tspan></text>
<text x="1236.80" y="59" font-family="Liberation Sans" font-weight="bold" font-size="8.5" fill="#9a9a9a">y<tspan font-size="5.5" dx="2">5</tspan></text>
<text x="1257.80" y="59" font-family="Liberation Sans" font-weight="bold" font-size="8.5" fill="#9a9a9a">y<tspan font-size="5.5" dx="2">4</tspan></text>
<text x="1278.80" y="59" font-family="Liberation Sans" font-weight="bold" font-size="8.5" fill="#9a9a9a">y<tspan font-size="5.5" dx="2">3</tspan></text>
<text x="1299.80" y="59" font-family="Liberation Sans" font-weight="bold" font-size="8.5" fill="#9a9a9a">y<tspan font-size="5.5" dx="2">2</tspan></text>
<text x="1320.80" y="59" font-family="Liberation Sans" font-weight="bold" font-size="8.5" fill="#9a9a9a">y<tspan font-size="5.5" dx="2">1</tspan></text>
<g fill="#111" shape-rendering="crispEdges"><rect x="938" y="66" width="1" height="17"/><rect x="937" y="83" width="1" height="1"/><rect x="936" y="84" width="1" height="1"/><rect x="935" y="85" width="1" height="1"/><rect x="934" y="86" width="1" height="1"/><rect x="959" y="66" width="1" height="17"/><rect x="958" y="83" width="1" height="1"/><rect x="957" y="84" width="1" height="1"/><rect x="956" y="85" width="1" height="1"/><rect x="955" y="86" width="1" height="1"/><rect x="980" y="66" width="1" height="17"/><rect x="979" y="83" width="1" height="1"/><rect x="978" y="84" width="1" height="1"/><rect x="977" y="85" width="1" height="1"/><rect x="976" y="86" width="1" height="1"/><rect x="1001" y="66" width="1" height="17"/><rect x="1000" y="83" width="1" height="1"/><rect x="999" y="84" width="1" height="1"/><rect x="998" y="85" width="1" height="1"/><rect x="997" y="86" width="1" height="1"/><rect x="1022" y="66" width="1" height="17"/><rect x="1021" y="83" width="1" height="1"/><rect x="1020" y="84" width="1" height="1"/><rect x="1019" y="85" width="1" height="1"/><rect x="1018" y="86" width="1" height="1"/><rect x="1043" y="66" width="1" height="17"/><rect x="1042" y="83" width="1" height="1"/><rect x="1041" y="84" width="1" height="1"/><rect x="1040" y="85" width="1" height="1"/><rect x="1039" y="86" width="1" height="1"/><rect x="1044" y="65" width="1" height="1"/><rect x="1045" y="64" width="1" height="1"/><rect x="1046" y="63" width="1" height="1"/><rect x="1047" y="62" width="1" height="1"/><rect x="1064" y="66" width="1" height="17"/><rect x="1063" y="83" width="1" height="1"/><rect x="1062" y="84" width="1" height="1"/><rect x="1061" y="85" width="1" height="1"/><rect x="1060" y="86" width="1" height="1"/><rect x="1085" y="66" width="1" height="17"/><rect x="1084" y="83" width="1" height="1"/><rect x="1083" y="84" width="1" height="1"/><rect x="1082" y="85" width="1" height="1"/><rect x="1081" y="86" width="1" height="1"/><rect x="1086" y="65" width="1" height="1"/><rect x="1087" y="64" width="1" height="1"/><rect x="1088" y="63" width="1" height="1"/><rect x="1089" y="62" width="1" height="1"/><rect x="1106" y="66" width="1" height="17"/><rect x="1105" y="83" width="1" height="1"/><rect x="1104" y="84" width="1" height="1"/><rect x="1103" y="85" width="1" height="1"/><rect x="1102" y="86" width="1" height="1"/><rect x="1107" y="65" width="1" height="1"/><rect x="1108" y="64" width="1" height="1"/><rect x="1109" y="63" width="1" height="1"/><rect x="1110" y="62" width="1" height="1"/><rect x="1127" y="66" width="1" height="17"/><rect x="1126" y="83" width="1" height="1"/><rect x="1125" y="84" width="1" height="1"/><rect x="1124" y="85" width="1" height="1"/><rect x="1123" y="86" width="1" height="1"/><rect x="1128" y="65" width="1" height="1"/><rect x="1129" y="64" width="1" height="1"/><rect x="1130" y="63" width="1" height="1"/><rect x="1131" y="62" width="1" height="1"/><rect x="1148" y="66" width="1" height="17"/><rect x="1147" y="83" width="1" height="1"/><rect x="1146" y="84" width="1" height="1"/><rect x="1145" y="85" width="1" height="1"/><rect x="1144" y="86" width="1" height="1"/><rect x="1149" y="65" width="1" height="1"/><rect x="1150" y="64" width="1" height="1"/><rect x="1151" y="63" width="1" height="1"/><rect x="1152" y="62" width="1" height="1"/><rect x="1169" y="66" width="1" height="17"/><rect x="1168" y="83" width="1" height="1"/><rect x="1167" y="84" width="1" height="1"/><rect x="1166" y="85" width="1" height="1"/><rect x="1165" y="86" width="1" height="1"/><rect x="1170" y="65" width="1" height="1"/><rect x="1171" y="64" width="1" height="1"/><rect x="1172" y="63" width="1" height="1"/><rect x="1173" y="62" width="1" height="1"/><rect x="1190" y="66" width="1" height="17"/><rect x="1189" y="83" width="1" height="1"/><rect x="1188" y="84" width="1" height="1"/><rect x="1187" y="85" width="1" height="1"/><rect x="1186" y="86" width="1" height="1"/><rect x="1191" y="65" width="1" height="1"/><rect x="1192" y="64" width="1" height="1"/><rect x="1193" y="63" width="1" height="1"/><rect x="1194" y="62" width="1" height="1"/><rect x="1211" y="66" width="1" height="17"/><rect x="1212" y="65" width="1" height="1"/><rect x="1213" y="64" width="1" height="1"/><rect x="1214" y="63" width="1" height="1"/><rect x="1215" y="62" width="1" height="1"/><rect x="1232" y="66" width="1" height="17"/><rect x="1233" y="65" width="1" height="1"/><rect x="1234" y="64" width="1" height="1"/><rect x="1235" y="63" width="1" height="1"/><rect x="1236" y="62" width="1" height="1"/><rect x="1253" y="66" width="1" height="17"/><rect x="1254" y="65" width="1" height="1"/><rect x="1255" y="64" width="1" height="1"/><rect x="1256" y="63" width="1" height="1"/><rect x="1257" y="62" width="1" height="1"/><rect x="1274" y="66" width="1" height="17"/><rect x="1275" y="65" width="1" height="1"/><rect x="1276" y="64" width="1" height="1"/><rect x="1277" y="63" width="1" height="1"/><rect x="1278" y="62" width="1" height="1"/><rect x="1295" y="66" width="1" height="17"/><rect x="1296" y="65" width="1" height="1"/><rect x="1297" y="64" width="1" height="1"/><rect x="1298" y="63" width="1" height="1"/><rect x="1299" y="62" width="1" height="1"/><rect x="1316" y="66" width="1" height="17"/><rect x="1317" y="65" width="1" height="1"/><rect x="1318" y="64" width="1" height="1"/><rect x="1319" y="63" width="1" height="1"/><rect x="1320" y="62" width="1" height="1"/></g>
</svg></body></html>
